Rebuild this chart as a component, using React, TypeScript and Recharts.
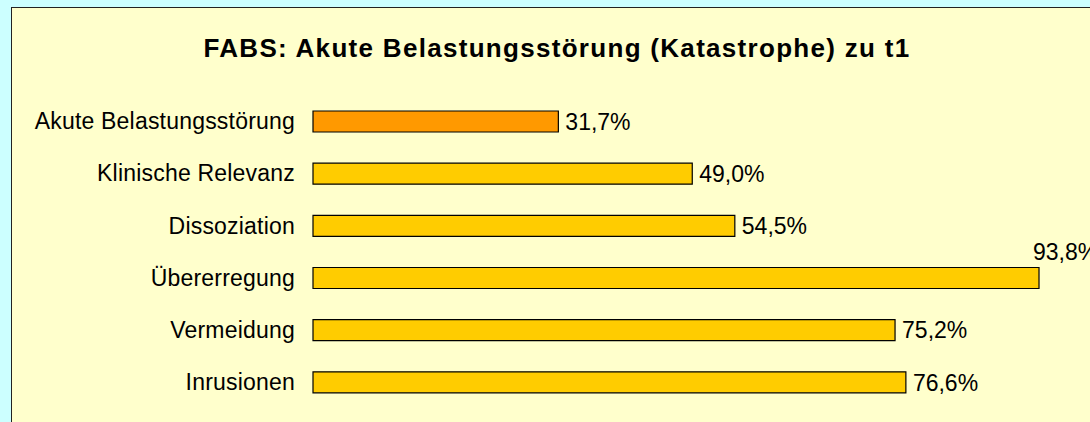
import React from "react"
import { BarChart, Bar, XAxis, YAxis, Cell, LabelList } from "recharts"

const categories = [
  "Akute Belastungsstörung",
  "Klinische Relevanz",
  "Dissoziation",
  "Übererregung",
  "Vermeidung",
  "Inrusionen",
]
const values = [31.7, 49.0, 54.5, 93.8, 75.2, 76.6]
const barColors = ["#FF9900", "#FFCC00", "#FFCC00", "#FFCC00", "#FFCC00", "#FFCC00"]

const data = categories.map((name, i) => ({ name, value: values[i] }))

const font = "'Liberation Sans', Arial, sans-serif"
const fmt = (v: number) => v.toFixed(1).replace(".", ",") + "%"

function ValueLabel(props: any) {
  const { x, y, width, height, value } = props
  const endX = x + width
  // label would run off the right edge -> put it above the bar end
  if (endX + 75 > 1090) {
    return (
      <text x={endX - 6} y={y - 8} fontSize={23} fontFamily={font} fill="#000">
        {fmt(value)}
      </text>
    )
  }
  return (
    <text x={endX + 7} y={y + height / 2} dy="0.36em" fontSize={23} fontFamily={font} fill="#000">
      {fmt(value)}
    </text>
  )
}

export default function App() {
  return (
    <div style={{ position: "fixed", left: 0, top: 0, width: 1090, height: 422, background: "#CCFFFF", overflow: "hidden" }}>
      <div
        style={{
          position: "absolute",
          left: 11,
          top: 7,
          width: 1100,
          height: 440,
          background: "#FFFFCC",
          border: "1px solid #222",
        }}
      />
      <div
        style={{
          position: "absolute",
          left: 0,
          top: 33,
          width: 1114,
          textAlign: "center",
          fontFamily: font,
          fontWeight: "bold",
          fontSize: 26,
          letterSpacing: 1.3,
          color: "#000",
        }}
      >
        FABS: Akute Belastungsstörung (Katastrophe) zu t1
      </div>
      <div style={{ position: "absolute", left: 0, top: 0 }}>
        <BarChart
          width={1090}
          height={422}
          data={data}
          layout="vertical"
          margin={{ top: 95, right: 3, bottom: 14, left: 0 }}
          barCategoryGap={31}
        >
          <XAxis type="number" domain={[0, 100]} hide />
          <YAxis
            type="category"
            dataKey="name"
            width={313}
            axisLine={false}
            tickLine={false}
            tickSize={0}
            tickMargin={18}
            tick={{ fontSize: 23, fontFamily: font, fill: "#000", letterSpacing: 0.2 }}
          />
          <Bar dataKey="value" barSize={21} stroke="#000" strokeWidth={1.2} isAnimationActive={false}>
            {data.map((d, i) => (
              <Cell key={d.name} fill={barColors[i]} />
            ))}
            <LabelList dataKey="value" content={<ValueLabel />} />
          </Bar>
        </BarChart>
      </div>
    </div>
  )
}
